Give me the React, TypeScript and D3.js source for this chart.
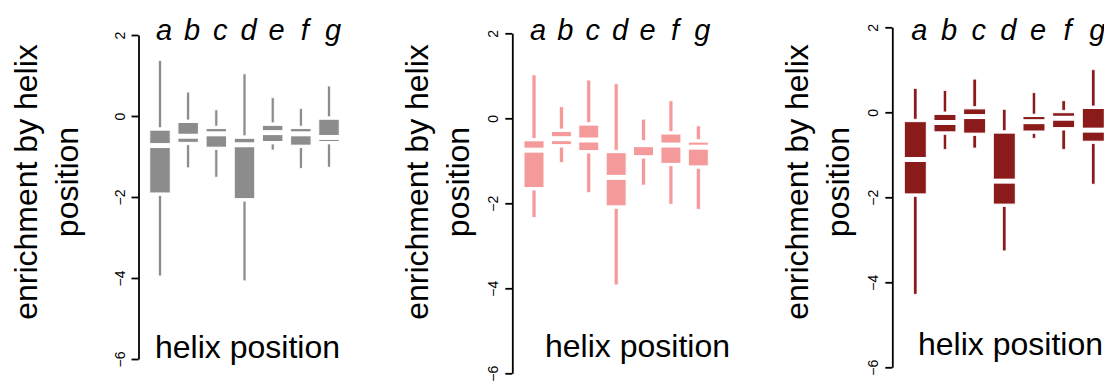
import React, { useEffect, useRef } from 'react';
import * as d3 from 'd3';

const positions = ['a', 'b', 'c', 'd', 'e', 'f', 'g'];
const yTicks = [-6, -4, -2, 0, 2];
const yLabelLines = ['enrichment by helix', 'position'];
const xLabel = 'helix position';

// [min, q1, median, q3, max] for each helix position
const greyStats = [
  [-3.95, -1.9, -0.73, -0.35, 1.37],
  [-1.28, -0.65, -0.5, -0.16, 0.59],
  [-1.51, -0.77, -0.44, -0.31, 0.15],
  [-4.07, -2.04, -0.71, -0.55, 1.04],
  [-0.84, -0.63, -0.41, -0.23, 0.45],
  [-1.29, -0.72, -0.44, -0.31, 0.18],
  [-1.26, -0.63, -0.53, -0.08, 0.74],
];
const pinkStats = [
  [-2.33, -1.63, -0.75, -0.53, 1.02],
  [-1.04, -0.62, -0.48, -0.31, 0.27],
  [-1.75, -0.76, -0.51, -0.16, 0.9],
  [-3.92, -2.06, -1.39, -0.81, 0.81],
  [-1.57, -0.88, -0.62, -0.58, -0.02],
  [-2.02, -1.06, -0.63, -0.37, 0.41],
  [-2.14, -1.12, -0.68, -0.56, -0.18],
];
const redStats = [
  [-4.28, -1.92, -1.11, -0.22, 0.56],
  [-0.87, -0.46, -0.24, -0.05, 0.51],
  [-0.84, -0.49, -0.1, 0.08, 0.78],
  [-3.26, -2.16, -1.62, -0.49, 0.07],
  [-0.61, -0.44, -0.22, -0.1, 0.46],
  [-0.87, -0.36, -0.14, -0.01, 0.27],
  [-1.69, -0.68, -0.42, 0.09, 1.0],
];

const font = '"Liberation Sans", Arial, Helvetica, sans-serif';

const panels = [
  { stats: greyStats, color: '#8c8c8c', axisX: 138.5, top: 35, bottom: 359, first: 160, last: 329, boxW: 20.5, whiskW: 3, lab1: 37, lab2: 78, xlabX: 155, xlabY: 358 },
  { stats: pinkStats, color: '#f59a9a', axisX: 512.3, top: 33.3, bottom: 373.3, first: 534, last: 698.3, boxW: 20, whiskW: 4, lab1: 428, lab2: 469, xlabX: 545, xlabY: 357 },
  { stats: redStats, color: '#8b1a1a', axisX: 892.3, top: 27.3, bottom: 367.3, first: 915.3, last: 1093.3, boxW: 22, whiskW: 3.4, lab1: 808, lab2: 849, xlabX: 918, xlabY: 355 },
];

const App = () => {
  const svgRef = useRef<SVGSVGElement>(null);

  useEffect(() => {
    const svg = d3.select(svgRef.current);
    svg.selectAll('*').remove();

    panels.forEach(p => {
      const g = svg.append('g');
      const y = d3.scaleLinear().domain([-6, 2]).range([p.bottom, p.top]);
      const x = d3.scalePoint<string>().domain(positions).range([p.first, p.last]);

      // y axis with rotated tick labels
      g.append('g')
        .attr('transform', `translate(${p.axisX},0)`)
        .call(d3.axisLeft(y).tickValues(yTicks).tickSize(7).tickSizeOuter(0))
        .call(a => a.select('.domain').attr('stroke-width', 1.8))
        .call(a => a.selectAll('.tick line').attr('stroke-width', 1.8))
        .call(a => a.selectAll('.tick text')
          .attr('x', null).attr('dy', null)
          .attr('text-anchor', 'middle')
          .attr('transform', 'translate(-14,0) rotate(-90)')
          .attr('font-size', 14)
          .attr('font-family', font)
          .attr('fill', '#000'));

      // y label
      const yl = g.append('text')
        .attr('transform', `translate(${p.lab1},182) rotate(-90)`)
        .attr('text-anchor', 'middle')
        .attr('font-family', font)
        .attr('font-size', 32);
      yl.append('tspan').attr('x', 0).attr('y', 0).text(yLabelLines[0]);
      yl.append('tspan').attr('x', 0).attr('y', p.lab2 - p.lab1).text(yLabelLines[1]);

      // x label
      g.append('text')
        .attr('x', p.xlabX).attr('y', p.xlabY)
        .attr('font-family', font).attr('font-size', 32)
        .text(xLabel);

      // position letters
      g.append('g')
        .selectAll('text')
        .data(positions)
        .join('text')
        .attr('x', d => (x(d) as number) + 4)
        .attr('y', 40)
        .attr('text-anchor', 'middle')
        .attr('font-family', font)
        .attr('font-style', 'italic')
        .attr('font-size', 29)
        .text(d => d);

      const gap = 2.5;
      const boxes = g.append('g')
        .selectAll('g')
        .data(p.stats.map((s, i) => ({ pos: positions[i], s })))
        .join('g')
        .attr('transform', d => `translate(${x(d.pos)},0)`);

      // upper whisker
      boxes.append('rect')
        .attr('x', -p.whiskW / 2)
        .attr('width', p.whiskW)
        .attr('y', d => y(d.s[4]))
        .attr('height', d => Math.max(0, y(d.s[3]) - gap - y(d.s[4])))
        .attr('fill', p.color)
        .attr('stroke', '#fff')
        .attr('stroke-width', 0.7);

      // lower whisker
      boxes.append('rect')
        .attr('x', -p.whiskW / 2)
        .attr('width', p.whiskW)
        .attr('y', d => y(d.s[1]) + gap)
        .attr('height', d => Math.max(0, y(d.s[0]) - y(d.s[1]) - gap))
        .attr('fill', p.color)
        .attr('stroke', '#fff')
        .attr('stroke-width', 0.7);

      // box
      boxes.append('rect')
        .attr('x', -p.boxW / 2)
        .attr('width', p.boxW)
        .attr('y', d => y(d.s[3]))
        .attr('height', d => y(d.s[1]) - y(d.s[3]))
        .attr('fill', p.color)
        .attr('stroke', '#fff')
        .attr('stroke-width', 1);

      // median as white gap
      boxes.append('line')
        .attr('x1', -p.boxW / 2 - 1)
        .attr('x2', p.boxW / 2 + 1)
        .attr('y1', d => y(d.s[2]))
        .attr('y2', d => y(d.s[2]))
        .attr('stroke', '#fff')
        .attr('stroke-width', 5);
    });
  }, []);

  return (
    <svg
      ref={svgRef}
      width={1104}
      height={382}
      style={{ position: 'absolute', left: 0, top: 0, background: '#fff' }}
    />
  );
};

export default App;
